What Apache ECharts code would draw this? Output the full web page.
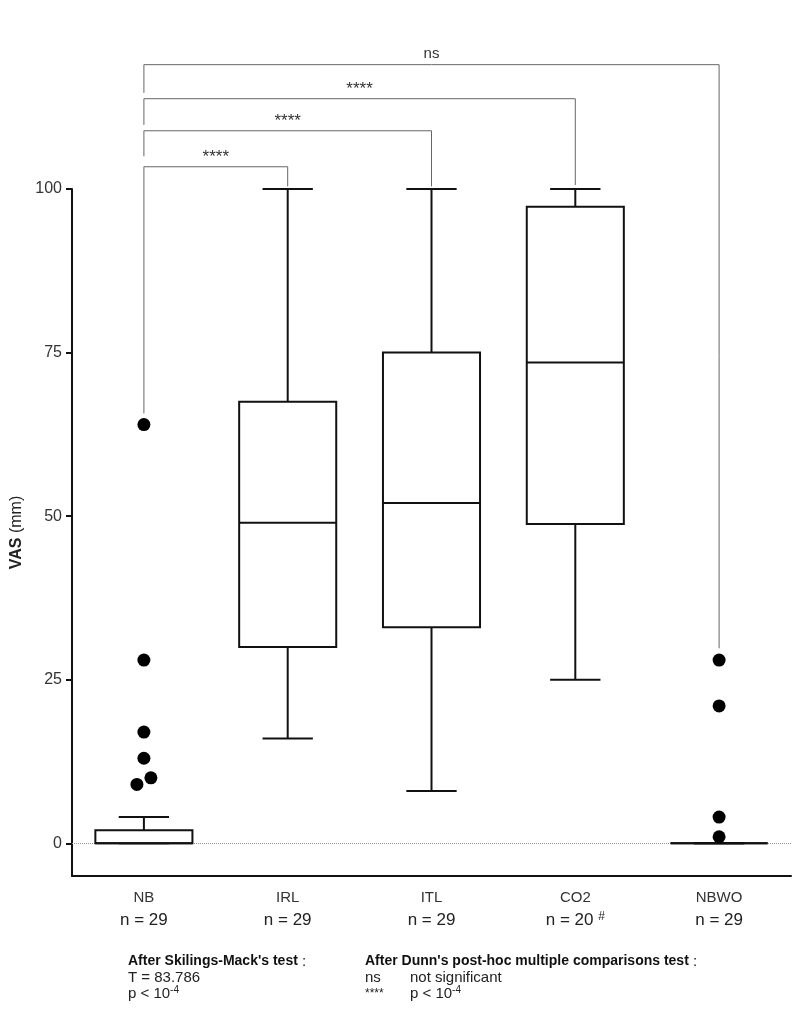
<!DOCTYPE html>
<html>
<head>
<meta charset="utf-8">
<style>
  html, body { margin: 0; padding: 0; background: #fff; }
  #chart { width: 797px; height: 1016px; }
</style>
<script src="https://cdn.jsdelivr.net/npm/echarts@6/dist/echarts.min.js"></script>
</head>
<body>
<div id="chart"></div>
<script>
// groups and sample sizes
const groups = ['NB', 'IRL', 'ITL', 'CO2', 'NBWO'];
const groupN = ['29', '29', '29', '20 #', '29'];

// box stats : [low whisker, Q1, median, Q3, high whisker]
const boxNB = [0, 0, 0, 2, 4];
const boxIRL = [16, 30, 49, 67.5, 100];
const boxITL = [8, 33, 52, 75, 100];
const boxCO2 = [25, 48.8, 73.5, 97.3, 100];
const boxNBWO = [0, 0, 0, 0, 0];

// outliers
const outNB = [64, 28, 17, 13, 10, 9];
const outNBWO = [28, 21, 4, 1];

const yTicks = [0, 25, 50, 75, 100];

// significance brackets (Dunn's test)
const bracketFrom = [0, 0, 0, 0];
const bracketTo = [1, 2, 3, 4];
const bracketLevel = [103.4, 108.9, 113.8, 119];
const bracketLeftEnd = [65.7, 105, 109.8, 114.7];
const bracketRightEnd = [100.4, 100.4, 100.6, 29.8];
const bracketLabel = ['****', '****', '****', 'ns'];

const FONT = 'Liberation Sans, Arial, sans-serif';
const INK = '#111';

const boxes = [boxNB, boxIRL, boxITL, boxCO2, boxNBWO];
const boxData = boxes.map((b, i) => [i].concat(b));

// two NB points are drawn side by side in the original
const sideShift = { 10: 7, 9: -7 };
const outlierData = outNB.map(v => {
  const item = { value: [0, v] };
  if (sideShift[v]) item.symbolOffset = [sideShift[v], 0];
  return item;
}).concat(outNBWO.map(v => ({ value: [4, v] })));

const bracketData = bracketFrom.map((f, i) => [f, bracketTo[i], bracketLevel[i], bracketLeftEnd[i], bracketRightEnd[i]]);

const chart = echarts.init(document.getElementById('chart'));

function renderBox(params, api) {
  const x = api.value(0);
  const low = api.coord([x, api.value(1)]);
  const q1 = api.coord([x, api.value(2)]);
  const med = api.coord([x, api.value(3)]);
  const q3 = api.coord([x, api.value(4)]);
  const high = api.coord([x, api.value(5)]);
  const band = api.size([1, 0])[0];
  const bw = band * 0.675;
  const cw = band * 0.35;
  const cx = q1[0];
  const ls = { stroke: INK, lineWidth: 2 };
  const line = (x1, y1, x2, y2) => ({ type: 'line', shape: { x1, y1, x2, y2 }, style: ls });
  return {
    type: 'group',
    children: [
      line(cx, q3[1], cx, high[1]),
      line(cx - cw / 2, high[1], cx + cw / 2, high[1]),
      line(cx, q1[1], cx, low[1]),
      line(cx - cw / 2, low[1], cx + cw / 2, low[1]),
      {
        type: 'rect',
        shape: { x: cx - bw / 2, y: q3[1], width: bw, height: q1[1] - q3[1] },
        style: { fill: '#fff', stroke: INK, lineWidth: 2 }
      },
      line(cx - bw / 2, med[1], cx + bw / 2, med[1])
    ]
  };
}

function renderBracket(params, api) {
  const a = api.value(0), b = api.value(1), lv = api.value(2);
  const pA = api.coord([a, api.value(3)]);
  const pB = api.coord([a, lv]);
  const pC = api.coord([b, lv]);
  const pD = api.coord([b, api.value(4)]);
  const label = bracketLabel[params.dataIndex];
  const isNs = label === 'ns';
  return {
    type: 'group',
    children: [
      {
        type: 'polyline',
        shape: { points: [pA, pB, pC, pD] },
        style: { stroke: '#666', lineWidth: 1, fill: null }
      },
      {
        type: 'text',
        x: (pB[0] + pC[0]) / 2,
        y: pB[1] - (isNs ? 3 : 1),
        style: {
          text: label, align: 'center', verticalAlign: 'bottom', fill: '#333',
          font: (isNs ? '15px ' : '17px ') + FONT
        }
      }
    ]
  };
}

const option = {
  animation: false,
  textStyle: { fontFamily: FONT },
  grid: { left: 72, right: 6, top: 189, bottom: 140, outerBoundsMode: 'none' },
  xAxis: {
    type: 'category',
    data: groups,
    axisLine: { onZero: false, lineStyle: { color: INK, width: 2 } },
    axisTick: { alignWithLabel: true, length: 6, lineStyle: { color: INK, width: 2 } },
    axisLabel: {
      margin: 13,
      formatter: (v, i) => {
        const n = groupN[i];
        if (n.indexOf('#') > -1) return '{a|' + v + '}\n{b|n = ' + n.replace(' #', ' ') + '}{s|#}';
        return '{a|' + v + '}\n{b|n = ' + n + '}';
      },
      rich: {
        a: { fontSize: 15, color: '#333', lineHeight: 18, fontFamily: FONT },
        b: { fontSize: 17, color: '#222', lineHeight: 26, fontFamily: FONT },
        s: { fontSize: 12, color: '#222', lineHeight: 26, padding: [0, 0, 6, 0], fontFamily: FONT }
      }
    },
    splitLine: { show: false }
  },
  yAxis: {
    type: 'value',
    min: -5,
    max: 100,
    axisLine: { show: true, lineStyle: { color: INK, width: 2 } },
    axisTick: { show: true, length: 6, customValues: yTicks, lineStyle: { color: INK, width: 2 } },
    axisLabel: { customValues: yTicks, fontSize: 16, color: '#333', margin: 10 },
    splitLine: { show: false },
    name: '{b|VAS} (mm)',
    nameLocation: 'middle',
    nameGap: 45,
    nameRotate: 90,
    nameTextStyle: {
      fontSize: 16, color: '#222', fontFamily: FONT,
      rich: { b: { fontSize: 16, fontWeight: 'bold', color: '#222', fontFamily: FONT } }
    }
  },
  series: [
    {
      type: 'custom',
      name: 'box',
      renderItem: renderBox,
      data: boxData,
      encode: { x: 0, y: [1, 2, 3, 4, 5] },
      z: 3
    },
    {
      type: 'scatter',
      name: 'outliers',
      data: outlierData,
      symbolSize: 13,
      itemStyle: { color: '#000', opacity: 1 },
      z: 4,
      markLine: {
        silent: true,
        symbol: 'none',
        label: { show: false },
        lineStyle: { type: 'dotted', color: '#999', width: 1 },
        data: [{ yAxis: 0 }],
        z: 1
      }
    },
    {
      type: 'custom',
      name: 'brackets',
      renderItem: renderBracket,
      data: bracketData,
      clip: false,
      encode: { x: [0, 1], y: [2, 3, 4] },
      z: 2
    }
  ],
  graphic: [
    {
      type: 'text', left: 128, top: 954,
      style: {
        text: "{b|After Skilings-Mack's test} :", fill: '#111', font: '15px ' + FONT,
        rich: { b: { font: 'bold 14px ' + FONT, fill: '#111' } }
      }
    },
    { type: 'text', left: 128, top: 970, style: { text: 'T = 83.786', fill: '#222', font: '15px ' + FONT } },
    {
      type: 'text', left: 128, top: 985,
      style: {
        text: 'p < 10{s|-4}', fill: '#222', font: '15px ' + FONT,
        rich: { s: { font: '10px ' + FONT, fill: '#222', padding: [0, 0, 7, 0] } }
      }
    },
    {
      type: 'text', left: 365, top: 954,
      style: {
        text: "{b|After Dunn's post-hoc multiple comparisons test} :", fill: '#111', font: '15px ' + FONT,
        rich: { b: { font: 'bold 14px ' + FONT, fill: '#111' } }
      }
    },
    { type: 'text', left: 365, top: 970, style: { text: 'ns', fill: '#222', font: '15px ' + FONT } },
    { type: 'text', left: 410, top: 970, style: { text: 'not significant', fill: '#222', font: '15px ' + FONT } },
    { type: 'text', left: 365, top: 988, style: { text: '****', fill: '#222', font: '12px ' + FONT } },
    {
      type: 'text', left: 410, top: 985,
      style: {
        text: 'p < 10{s|-4}', fill: '#222', font: '15px ' + FONT,
        rich: { s: { font: '10px ' + FONT, fill: '#222', padding: [0, 0, 7, 0] } }
      }
    }
  ]
};

chart.setOption(option);
window.addEventListener('resize', () => chart.resize());
</script>
</body>
</html>
